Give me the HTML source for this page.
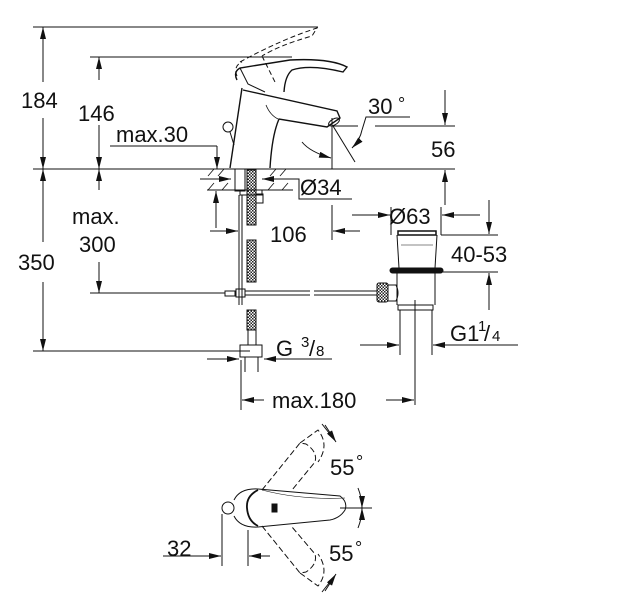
<!DOCTYPE html>
<html><head><meta charset="utf-8"><style>
html,body{margin:0;padding:0;background:#fff;}
svg{display:block;}
text{font-family:"Liberation Sans",Arial,sans-serif;fill:#111;}
</style></head><body>
<svg width="628" height="600" viewBox="0 0 628 600" xmlns="http://www.w3.org/2000/svg">
<defs>
<marker id="a" viewBox="0 0 12 6" refX="12" refY="3" markerWidth="12" markerHeight="6" orient="auto" markerUnits="userSpaceOnUse"><path d="M0,0 L12,3 L0,6 z" fill="#111"/></marker>
<pattern id="h" width="3" height="3" patternUnits="userSpaceOnUse"><rect width="3" height="3" fill="#fff"/><rect width="1.5" height="1.5" fill="#222"/><rect x="1.5" y="1.5" width="1.5" height="1.5" fill="#222"/></pattern>
</defs>
<g stroke="#111" stroke-width="1" fill="none">
<line x1="33" y1="27" x2="318" y2="27"/>
<line x1="90" y1="57" x2="292" y2="57"/>
<line x1="33" y1="169" x2="455" y2="169"/>
<line x1="33" y1="351" x2="250" y2="351"/>
<line x1="90" y1="293" x2="225" y2="293"/>
<line x1="43" y1="50" x2="43" y2="27" marker-end="url(#a)"/>
<line x1="43" y1="150" x2="43" y2="169" marker-end="url(#a)"/>
<line x1="43" y1="190" x2="43" y2="169" marker-end="url(#a)"/>
<line x1="43" y1="330" x2="43" y2="351" marker-end="url(#a)"/>
<line x1="43" y1="50" x2="43" y2="82"/><line x1="43" y1="118" x2="43" y2="150"/>
<line x1="43" y1="190" x2="43" y2="242"/><line x1="43" y1="282" x2="43" y2="330"/>
<line x1="99" y1="80" x2="99" y2="57" marker-end="url(#a)"/>
<line x1="99" y1="125" x2="99" y2="169" marker-end="url(#a)"/>
<line x1="99" y1="190" x2="99" y2="169" marker-end="url(#a)"/>
<line x1="99" y1="262" x2="99" y2="293" marker-end="url(#a)"/>
<line x1="110" y1="146" x2="217" y2="146"/>
<line x1="217" y1="146" x2="217" y2="169" marker-end="url(#a)"/>
<line x1="216" y1="228" x2="216" y2="191" marker-end="url(#a)"/>
<line x1="207" y1="190" x2="293" y2="190"/>
<g stroke-width="0.8">
<line x1="208" y1="176" x2="214" y2="169"/><line x1="218" y1="176" x2="224" y2="169"/><line x1="208" y1="190" x2="214" y2="183"/><line x1="222" y1="190" x2="228" y2="183"/>
<line x1="270" y1="176" x2="276" y2="169"/><line x1="280" y1="176" x2="286" y2="169"/><line x1="268" y1="190" x2="274" y2="183"/><line x1="282" y1="190" x2="288" y2="183"/>
</g>
<line x1="200" y1="179" x2="231" y2="179" marker-end="url(#a)"/>
<line x1="290" y1="179" x2="262" y2="179" marker-end="url(#a)"/>
<polyline points="288,179 299,179 299,199 352,199"/>
<rect x="235" y="169" width="10" height="22"/>
<rect x="247" y="170" width="9" height="55" fill="url(#h)"/>
<rect x="240" y="190" width="22" height="5"/>
<rect x="256" y="194" width="7" height="9"/>
<line x1="239" y1="195" x2="239" y2="305"/><line x1="242" y1="195" x2="242" y2="305"/>
<rect x="247" y="240" width="9" height="42" fill="url(#h)"/>
<rect x="225" y="291" width="10" height="5"/>
<rect x="236" y="289" width="9" height="8"/>
<line x1="245" y1="291" x2="310" y2="291"/><line x1="245" y1="295" x2="310" y2="295"/>
<line x1="314" y1="291" x2="377" y2="291"/><line x1="314" y1="295" x2="377" y2="295"/>
<rect x="377" y="283" width="11" height="19" rx="2" fill="url(#h)"/>
<path d="M388,285 L396,285 Q400,293 396,301 L388,301"/>
<rect x="247" y="310" width="9" height="20" fill="url(#h)"/>
<rect x="248" y="330" width="8" height="15"/>
<rect x="240" y="345" width="22" height="12"/>
<line x1="245" y1="357" x2="245" y2="372"/><line x1="258" y1="357" x2="258" y2="372"/>
<line x1="210" y1="231" x2="238" y2="231" marker-end="url(#a)"/>
<line x1="332" y1="205" x2="332" y2="240"/>
<line x1="360" y1="231" x2="333" y2="231" marker-end="url(#a)"/>
<line x1="207" y1="359" x2="239" y2="359" marker-end="url(#a)"/>
<line x1="300" y1="359" x2="264" y2="359" marker-end="url(#a)"/>
<line x1="264" y1="359" x2="332" y2="359"/>
<line x1="241" y1="360" x2="241" y2="410"/>
<line x1="264" y1="400" x2="242" y2="400" marker-end="url(#a)"/>
<line x1="386" y1="400" x2="414" y2="400" marker-end="url(#a)"/>
<rect x="398" y="231" width="38" height="4" stroke-width="1.5"/>
<line x1="397" y1="235" x2="399" y2="268"/><line x1="437" y1="235" x2="435" y2="268"/>
<line x1="401" y1="245" x2="433" y2="245" stroke-width="0.6"/>
<rect x="390" y="268" width="53" height="5" rx="2.5" fill="#111"/>
<line x1="397" y1="273" x2="397" y2="305"/><line x1="435" y1="273" x2="435" y2="305"/>
<rect x="398" y="305" width="35" height="5"/>
<line x1="400" y1="310" x2="400" y2="355"/><line x1="432" y1="310" x2="432" y2="355"/>
<line x1="415" y1="300" x2="415" y2="405"/>
<line x1="391" y1="207" x2="391" y2="235"/><line x1="441" y1="207" x2="441" y2="235"/>
<line x1="352" y1="215" x2="390" y2="215" marker-end="url(#a)"/>
<line x1="480" y1="215" x2="442" y2="215" marker-end="url(#a)"/>
<line x1="441" y1="235" x2="498" y2="235"/><line x1="443" y1="272" x2="498" y2="272"/>
<line x1="489" y1="200" x2="489" y2="234" marker-end="url(#a)"/>
<line x1="489" y1="310" x2="489" y2="273" marker-end="url(#a)"/>
<line x1="360" y1="345" x2="399" y2="345" marker-end="url(#a)"/>
<line x1="518" y1="345" x2="433" y2="345" marker-end="url(#a)"/>
<line x1="375" y1="126" x2="455" y2="126"/>
<line x1="445" y1="90" x2="445" y2="125" marker-end="url(#a)"/>
<line x1="445" y1="205" x2="445" y2="170" marker-end="url(#a)"/>
<line x1="332" y1="118" x2="332" y2="169"/>
<line x1="332" y1="126" x2="358" y2="126"/>
<line x1="333" y1="126" x2="355" y2="162"/>
<polyline points="410,117 366,117 362,130"/>
<path d="M362,130 Q360,140 352,148" marker-end="url(#a)"/>
<path d="M302,142 Q310,152 331,158" marker-end="url(#a)"/>
<path d="M242,88 L230,168" stroke-width="1.4"/>
<path d="M243,90 L337,111 L340,118 L327,127 L279,119 Q272,135 270,168" stroke-width="1.4"/>
<path d="M266,105 Q270,115 278,119" stroke-width="0.8"/>
<ellipse cx="334" cy="122" rx="6" ry="3" transform="rotate(-30 334 122)"/>
<path d="M237,80 Q233,72 240,68 L290,60 Q330,58 347,67 L343,72 Q310,64 292,70 Q285,76 284,92" stroke-width="1.4"/>
<path d="M240,68 L248,84 L265,92" stroke-width="1"/>
<path d="M240,62 Q280,40 317,28 L312,36 Q280,45 262,56 M262,56 L275,82 M237,76 Q233,66 242,62" stroke-dasharray="5,3"/>
<circle cx="228" cy="127" r="5"/>
<line x1="230" y1="132" x2="234" y2="145"/>
<circle cx="228" cy="508" r="6"/>
<path d="M234,500 Q240,488 258,489 L340,496 Q348,502 345,510 Q340,518 330,520 L258,527 Q240,528 234,516"/>
<path d="M258,490 Q246,496 247,508 Q248,521 258,526" stroke-width="1.8"/>
<path d="M262,490 Q300,500 345,498" stroke-width="0.6"/>
<rect x="272" y="504" width="5" height="8" fill="#111"/>
<line x1="340" y1="508" x2="372" y2="508"/>
<path d="M262,490 L300,443 L306,444 Q318,452 315,462 L292,490" stroke-dasharray="6,3"/>
<path d="M300,443 L318,430 Q330,445 318,462" stroke-dasharray="6,3"/>
<path d="M262,526 L300,573 L306,572 Q318,564 315,554 L292,527" stroke-dasharray="6,3"/>
<path d="M300,573 L318,586 Q330,571 318,554" stroke-dasharray="6,3"/>
<line x1="322" y1="424" x2="333" y2="438"/>
<line x1="322" y1="592" x2="333" y2="578"/>
<line x1="325" y1="425" x2="336" y2="442" marker-end="url(#a)"/>
<line x1="325" y1="591" x2="336" y2="574" marker-end="url(#a)"/>
<path d="M358,488 Q362,498 362,508" marker-end="url(#a)"/>
<path d="M358,528 Q362,518 362,508" marker-end="url(#a)"/>
<line x1="222" y1="514" x2="222" y2="566"/>
<line x1="248" y1="530" x2="248" y2="566"/>
<line x1="163" y1="556" x2="221" y2="556" marker-end="url(#a)"/>
<line x1="270" y1="556" x2="249" y2="556" marker-end="url(#a)"/>
</g>
<g font-size="22">
<text x="21" y="108">184</text>
<text x="78" y="121">146</text>
<text x="116" y="142">max.30</text>
<text x="72" y="224">max.</text>
<text x="79" y="252">300</text>
<text x="18" y="270">350</text>
<text x="300" y="195">Ø34</text>
<text x="270" y="242">106</text>
<text x="389" y="224">Ø63</text>
<text x="368" y="114">30</text><text x="398" y="110" font-size="18">°</text>
<text x="431" y="157">56</text>
<text x="451" y="262">40-53</text>
<text x="276" y="356">G</text><text x="301" y="347" font-size="15">3</text><text x="309" y="356">/</text><text x="316" y="356" font-size="15">8</text>
<text x="450" y="341">G1</text><text x="478" y="331" font-size="15">1</text><text x="484" y="341">/</text><text x="492" y="341" font-size="15">4</text>
<text x="272" y="408">max.180</text>
<text x="330" y="475">55</text><text x="356" y="468" font-size="18">°</text>
<text x="329" y="561">55</text><text x="355" y="554" font-size="18">°</text>
<text x="167" y="556">32</text>
</g>
</svg>
</body></html>
